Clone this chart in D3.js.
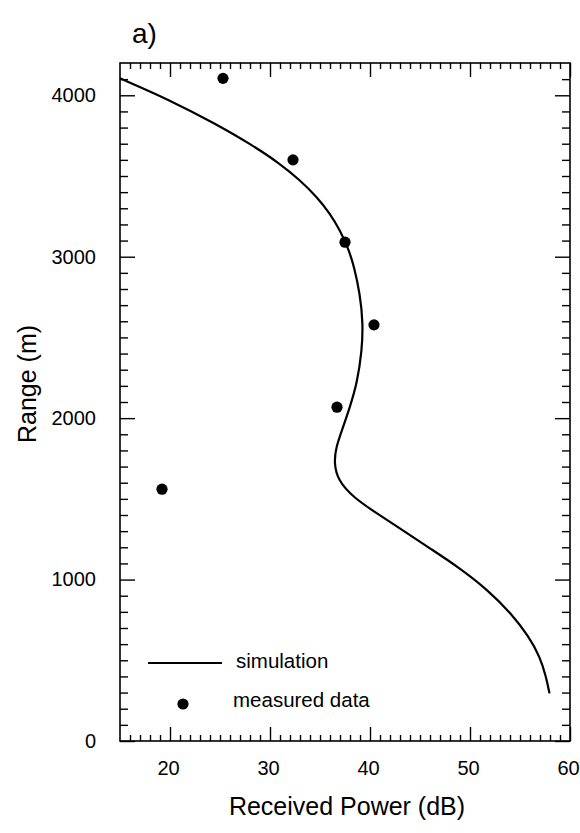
<!DOCTYPE html>
<html>
<head>
<meta charset="utf-8">
<script src="https://cdn.jsdelivr.net/npm/d3@7"></script>
<style>
  html, body { margin: 0; padding: 0; background: #fff; }
  svg text { font-family: "Liberation Sans", Arial, Helvetica, sans-serif; fill: #000; }
</style>
</head>
<body>
<svg id="chart" width="580" height="833"></svg>
<script>
// Simulated received power along range (dB, m)
const simRange = [4105, 3970, 3825, 3700, 3577, 3474, 3370, 3267, 3164, 3040, 2940, 2770, 2590, 2420, 2215, 2070, 1925, 1820, 1720, 1615, 1510, 1405, 1300, 1193, 1079, 935, 791, 646, 520, 400, 295];
const simPower = [15.0, 20.0, 24.5, 28.0, 31.0, 33.0, 34.7, 36.0, 37.0, 37.9, 38.4, 39.0, 39.3, 39.2, 38.7, 38.0, 37.2, 36.6, 36.4, 36.8, 38.3, 40.8, 43.4, 46.0, 48.8, 51.8, 54.1, 55.9, 57.0, 57.6, 57.95];

// Measured points
const measuredPower = [25.3, 32.3, 37.5, 40.4, 36.7, 19.2];
const measuredRange = [4105, 3600, 3090, 2578, 2068, 1560];

// Axis ticks
const xMajorTicks = [20, 30, 40, 50, 60];
const xTickLabels = ["20", "30", "40", "50", "60"];
const yMajorTicks = [0, 1000, 2000, 3000, 4000];
const yTickLabels = ["0", "1000", "2000", "3000", "4000"];

const legendLabels = ["simulation", "measured data"];

const svg = d3.select("#chart");
const plotLeft = 120, plotRight = 570, plotTop = 63, plotBottom = 741;

const x = d3.scaleLinear().domain([15, 60]).range([plotLeft, plotRight]);
const y = d3.scaleLinear().domain([0, 4200]).range([plotBottom, plotTop]);

const xMinor = d3.range(16, 60).filter(v => v % 10 !== 0);
const yMinor = d3.range(100, 4200, 100).filter(v => v % 1000 !== 0);

function styleAxis(g) {
  g.select(".domain").remove();
  g.selectAll(".tick line").attr("stroke", "#000").attr("stroke-width", 1.4);
}

// bottom
svg.append("g").attr("transform", `translate(0,${plotBottom})`)
  .call(d3.axisBottom(x).tickValues(xMajorTicks).tickSize(-14).tickPadding(20)
    .tickFormat((d, i) => xTickLabels[i]))
  .call(styleAxis)
  .call(g => g.selectAll(".tick text").attr("font-size", 20).attr("dx", -2));
svg.append("g").attr("transform", `translate(0,${plotBottom})`)
  .call(d3.axisBottom(x).tickValues(xMinor).tickSize(-6).tickFormat(""))
  .call(styleAxis);
// top
svg.append("g").attr("transform", `translate(0,${plotTop})`)
  .call(d3.axisTop(x).tickValues(xMajorTicks).tickSize(-14).tickFormat(""))
  .call(styleAxis);
svg.append("g").attr("transform", `translate(0,${plotTop})`)
  .call(d3.axisTop(x).tickValues(xMinor).tickSize(-6).tickFormat(""))
  .call(styleAxis);
// left
svg.append("g").attr("transform", `translate(${plotLeft},0)`)
  .call(d3.axisLeft(y).tickValues(yMajorTicks).tickSize(-15).tickPadding(24)
    .tickFormat((d, i) => yTickLabels[i]))
  .call(styleAxis)
  .call(g => g.selectAll(".tick text").attr("font-size", 20));
svg.append("g").attr("transform", `translate(${plotLeft},0)`)
  .call(d3.axisLeft(y).tickValues(yMinor).tickSize(-8).tickFormat(""))
  .call(styleAxis);
// right
svg.append("g").attr("transform", `translate(${plotRight},0)`)
  .call(d3.axisRight(y).tickValues(yMajorTicks).tickSize(-15).tickFormat(""))
  .call(styleAxis);
svg.append("g").attr("transform", `translate(${plotRight},0)`)
  .call(d3.axisRight(y).tickValues(yMinor).tickSize(-8).tickFormat(""))
  .call(styleAxis);

// frame
svg.append("rect")
  .attr("x", plotLeft).attr("y", plotTop)
  .attr("width", plotRight - plotLeft).attr("height", plotBottom - plotTop)
  .attr("fill", "none").attr("stroke", "#000").attr("stroke-width", 1.6);

// simulation curve (smoothed B-spline through the sampled profile)
const simData = simRange.map((r, i) => ({ r, p: simPower[i] }));
const line = d3.line()
  .x(d => x(d.p)).y(d => y(d.r))
  .curve(d3.curveBasis);
svg.append("path")
  .datum(simData)
  .attr("d", line)
  .attr("fill", "none").attr("stroke", "#000").attr("stroke-width", 2.2);

// measured points
svg.append("g").selectAll("circle")
  .data(measuredPower.map((p, i) => ({ p, r: measuredRange[i] })))
  .join("circle")
  .attr("cx", d => x(d.p)).attr("cy", d => y(d.r))
  .attr("r", 5.6).attr("fill", "#000");

// legend
const lg = svg.append("g");
lg.append("line").attr("x1", 148).attr("x2", 222).attr("y1", 663).attr("y2", 663)
  .attr("stroke", "#000").attr("stroke-width", 2.2);
lg.append("text").attr("x", 236).attr("y", 668).attr("font-size", 20.5).text(legendLabels[0]);
lg.append("circle").attr("cx", 183).attr("cy", 704).attr("r", 5.6).attr("fill", "#000");
lg.append("text").attr("x", 233).attr("y", 707).attr("font-size", 20.5).text(legendLabels[1]);

// axis titles
svg.append("text").attr("x", 347).attr("y", 815).attr("text-anchor", "middle")
  .attr("font-size", 25).text("Received Power (dB)");
svg.append("text").attr("transform", "translate(36,384) rotate(-90)")
  .attr("text-anchor", "middle").attr("font-size", 25).text("Range (m)");

// panel label
svg.append("text").attr("x", 132).attr("y", 43).attr("font-size", 28).text("a)");
</script>
</body>
</html>
